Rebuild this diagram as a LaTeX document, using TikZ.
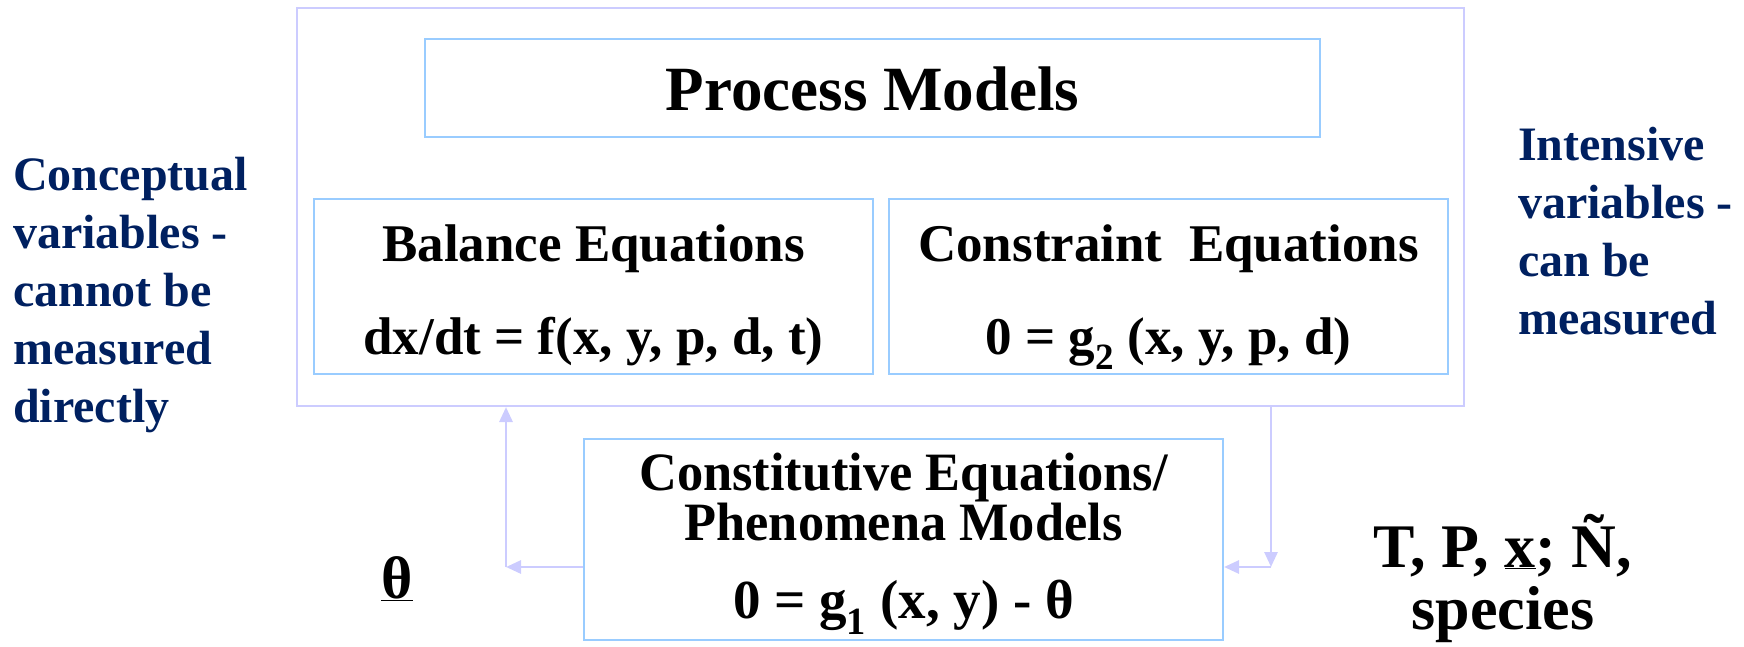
\documentclass[tikz,border=0pt]{standalone}
\usepackage{fontspec}
\usepackage{graphicx}
\setmainfont{Liberation Serif}
\usetikzlibrary{arrows.meta}
\definecolor{lav}{RGB}{204,204,255}
\definecolor{lblue}{RGB}{153,204,255}
\definecolor{navy}{RGB}{0,32,96}
\tikzset{
  outerbox/.style={draw=lav, line width=2pt, minimum width=1167pt, minimum height=398pt, inner sep=0pt},
  innerbox/.style={draw=lblue, line width=2pt, inner sep=0pt},
  txt/.style={inner sep=0pt, font=\bfseries},
  side/.style={inner sep=0pt, align=left, text=navy, font=\bfseries\fontsize{48}{58}\selectfont},
  arr/.style={draw=lav, line width=2.8pt, -{Triangle[length=15pt,width=13pt]}}
}
\begin{document}
\begin{tikzpicture}[x=1pt,y=-1pt]
\useasboundingbox (0,0) rectangle (1744,647);
% boxes
\node[outerbox] (outer) at (880.5,207) {};
\node[innerbox, minimum width=895pt, minimum height=98pt] (pm) at (872.5,88) {};
\node[innerbox, minimum width=559pt, minimum height=175pt] (bal) at (593.5,286.5) {};
\node[innerbox, minimum width=559pt, minimum height=175pt] (con) at (1168.5,286.5) {};
\node[innerbox, minimum width=639pt, minimum height=201pt] (cst) at (903.5,539.5) {};
% texts
\node[txt, anchor=base, font=\bfseries\fontsize{63}{75}\selectfont] (pmt) at (872.5,111) {Process Models};
\node[txt, anchor=base, font=\bfseries\fontsize{53}{64}\selectfont] (balt) at (593.5,261) {Balance Equations};
\node[txt, anchor=base, font=\bfseries\fontsize{53}{64}\selectfont] (bale) at (593.5,354) {dx/dt = f(x, y, p, d, t)};
\node[txt, anchor=base, font=\bfseries\fontsize{53}{64}\selectfont] (cont) at (1168.5,261) {Constraint\ \ Equations};
\node[txt, anchor=base, font=\bfseries\fontsize{53}{64}\selectfont] (cone) at (1168.5,354) {0 = g\textsubscript{2} (x, y, p, d)};
\node[txt, anchor=base, font=\bfseries\fontsize{54}{66}\selectfont] (cst1) at (903.5,490) {\scalebox{0.97}[1]{Constitutive Equations/}};
\node[txt, anchor=base, font=\bfseries\fontsize{54}{66}\selectfont] (cst2) at (903.5,540) {\scalebox{0.97}[1]{Phenomena Models}};
\node[txt, anchor=base, font=\bfseries\fontsize{55}{66}\selectfont] (cste) at (903.5,618) {0 = g\textsubscript{1} (x, y) - θ};
\node[txt, anchor=base, font=\bfseries\fontsize{60}{70}\selectfont] (theta) at (397,598) {\underline{θ}};
\node[txt, anchor=base, align=center, font=\bfseries\fontsize{62}{62}\selectfont] (meas) at (1503,629) {T, P, \underline{x}; Ñ,\\species};
\node[side, anchor=north west] (left) at (13,157) {Conceptual\\variables -\\cannot be\\measured\\directly};
\node[side, anchor=north west] (right) at (1518,127) {Intensive\\variables -\\can be\\measured};
% connectors
\coordinate (lc) at (506,567);
\coordinate (rc) at (1271,567);
\draw[arr] (cst.west |- lc) -- (lc);
\draw[arr] (lc) -- (outer.south -| lc);
\draw[arr] (outer.south -| rc) -- (rc);
\draw[arr] (rc) -- (cst.east |- rc);
\end{tikzpicture}
\end{document}
